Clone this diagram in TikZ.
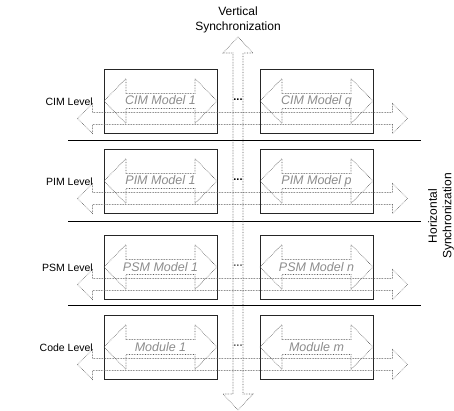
\documentclass[tikz,border=0pt]{standalone}
\usepackage{fontspec}
\setmainfont{Liberation Sans}
\begin{document}
\begin{tikzpicture}[x=1pt,y=-1pt,
  modelbox/.style={draw=black!85,line width=0.9pt,minimum width=113pt,minimum height=64pt,inner sep=0pt},
  syncline/.style={draw=black!65,densely dotted,line width=0.6pt},
  sepline/.style={draw=black,line width=0.9pt},
  levellabel/.style={anchor=east,font=\fontsize{10.5}{12}\selectfont,inner sep=0pt},
  modeltext/.style={anchor=base,font=\fontsize{12.5}{15}\selectfont\itshape,text=black!45,inner sep=0pt},
  synctext/.style={font=\fontsize{12}{14.5}\selectfont,align=center,inner sep=0pt},
  dotsep/.style={font=\fontsize{11}{12}\selectfont\bfseries,inner sep=0pt},
  pics/dblarrow/.style args={#1/#2/#3/#4}{
    code={\draw[syncline] (-#1,0) -- (-#1+#4,-#3) -- (-#1+#4,-#2) -- (#1-#4,-#2)
      -- (#1-#4,-#3) -- (#1,0) -- (#1-#4,#3) -- (#1-#4,#2) -- (-#1+#4,#2)
      -- (-#1+#4,#3) -- cycle;}}]
\useasboundingbox (0,0) rectangle (454,411);

% level separators
\foreach \y/\n in {140/s1,221/s2,305/s3}{
  \coordinate (\n a) at (68,\y);
  \coordinate (\n b) at (421,\y);
  \draw[sepline] (\n a) -- (\n b);
}

% levels: name / box centre y / label / first model / last model / dot colour
\foreach \n/\y/\lab/\ma/\mb/\dc in {
  cim/101/CIM Level/CIM Model 1/CIM Model q/black,
  pim/181/PIM Level/PIM Model 1/PIM Model p/black,
  psm/267/PSM Level/PSM Model 1/PSM Model n/black!60,
  code/347/Code Level/Module 1/Module m/black!60}{
  \node[levellabel] (\n lab) at (93,\y+1) {\lab};
  \node[modelbox] (\n one) at (160.5,\y) {};
  \node[modelbox] (\n two) at (316.5,\y) {};
  \pic at (\n one.center) {dblarrow={56.5/7.5/22.5/22}};
  \pic at (\n two.center) {dblarrow={56.5/7.5/22.5/22}};
  \node[modeltext] (\n onetxt) at ([yshift=-4pt]\n one.center) {\ma};
  \node[modeltext] (\n twotxt) at ([yshift=-4pt]\n two.center) {\mb};
  \node[dotsep,text=\dc] (\n dots) at (238,\y-1) {...};
  \coordinate (\n h) at (242.5,\y+17.5);
  \pic at (\n h) {dblarrow={165/6/15/15}};
}

% vertical synchronization arrow
\coordinate (vmid) at (238,223.5);
\pic[rotate=90] at (vmid) {dblarrow={186.5/5/15/16}};

% captions
\node[synctext] (vsync) at (238,20) {Vertical\\Synchronization};
\node[synctext,rotate=90] (hsync) at (441,216) {Horizontal\\Synchronization};
\end{tikzpicture}
\end{document}
